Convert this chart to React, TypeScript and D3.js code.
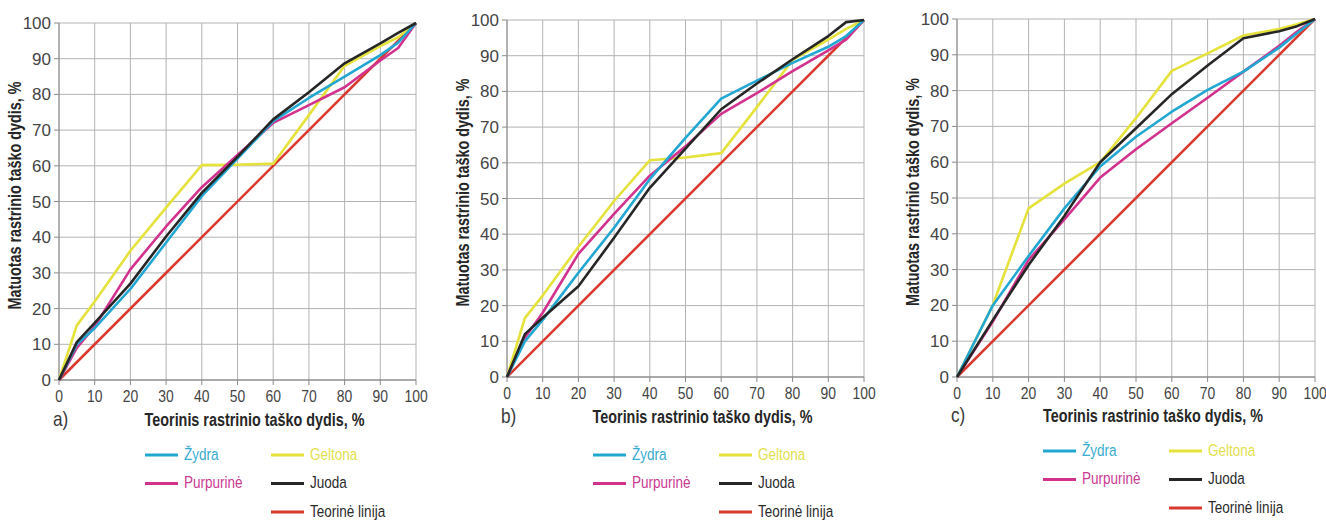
import React from 'react';
import * as d3 from 'd3';

// Nominal (theoretical) dot sizes, %
const X_AB = [0, 5, 10, 20, 30, 40, 50, 60, 70, 80, 90, 95, 100];
const X_C = [0, 10, 20, 30, 40, 50, 60, 70, 80, 90, 95, 100];
const X_THEORY = [0, 100];
const THEORY = [0, 100];

// Measured dot sizes, % — panel a)
const A_ZYDRA = [0, 10, 14.5, 25.5, 38.5, 51.5, 62, 72.5, 79, 85, 91, 94.5, 100];
const A_PURPURINE = [0, 9, 15, 31, 43, 54, 63, 72, 77, 82, 89.5, 93, 100];
const A_GELTONA = [0, 15.3, 22, 36.2, 48.3, 60.2, 60.3, 60.6, 74.2, 88, 93.5, 96, 100];
const A_JUODA = [0, 10.6, 16, 27, 40.2, 52.4, 62.5, 73, 80.6, 88.7, 94.3, 97.2, 100];

// Measured dot sizes, % — panel b)
const B_ZYDRA = [0, 10, 16, 29.2, 41.8, 55.4, 67, 78, 83, 88, 92.5, 95.5, 100];
const B_PURPURINE = [0, 11, 18, 34.5, 45.7, 56.4, 64.6, 73.7, 79.5, 85.7, 91.5, 94.5, 100];
const B_GELTONA = [0, 16.5, 22.8, 36.5, 49.3, 60.7, 61.5, 62.7, 75.6, 88.8, 94.5, 97.5, 100];
const B_JUODA = [0, 12, 16.6, 25.4, 39, 53, 64, 75, 82.2, 89, 95.5, 99.4, 100];

// Measured dot sizes, % — panel c)
const C_ZYDRA = [0, 20, 33.8, 47.1, 58.8, 67.1, 74.1, 80.2, 85.3, 92, 96, 100];
const C_PURPURINE = [0, 15.5, 32.7, 44, 55.7, 63.6, 70.9, 78, 85.3, 92.5, 96.5, 100];
const C_GELTONA = [0, 20.1, 47.1, 54, 60, 72.3, 85.5, 90.4, 95.4, 97.2, 98.5, 100];
const C_JUODA = [0, 15.9, 31.3, 45, 60, 69.5, 79, 87, 94.6, 96.6, 98, 100];

const TICKS = [0, 10, 20, 30, 40, 50, 60, 70, 80, 90, 100];
const X_TITLE = 'Teorinis rastrinio taško dydis, %';
const Y_TITLE = 'Matuotas rastrinio taško dydis, %';

const SERIES_COLORS: Record<string, string> = {
  'Žydra': '#22a7d2',
  'Purpurinė': '#d2328e',
  'Geltona': '#e5e23c',
  'Juoda': '#262626',
  'Teorinė linija': '#d93a30',
};
const LABEL_COLORS: Record<string, string> = {
  'Žydra': '#36abd0',
  'Purpurinė': '#cc3a92',
  'Geltona': '#e2df4c',
  'Juoda': '#2a2a2a',
  'Teorinė linija': '#2a2a2a',
};

type Panel = {
  label: string;
  x: number[];
  series: { name: string; values: number[] }[];
  left: number;
  top: number;
  size: number;
  legendY: number;
  titleY: number;
};

const PANELS: Panel[] = [
  {
    label: 'a)', x: X_AB,
    series: [
      { name: 'Geltona', values: A_GELTONA },
      { name: 'Purpurinė', values: A_PURPURINE },
      { name: 'Žydra', values: A_ZYDRA },
      { name: 'Juoda', values: A_JUODA },
    ],
    left: 59, top: 23, size: 357, legendY: 455, titleY: 426,
  },
  {
    label: 'b)', x: X_AB,
    series: [
      { name: 'Geltona', values: B_GELTONA },
      { name: 'Purpurinė', values: B_PURPURINE },
      { name: 'Žydra', values: B_ZYDRA },
      { name: 'Juoda', values: B_JUODA },
    ],
    left: 507, top: 20, size: 357, legendY: 455, titleY: 423,
  },
  {
    label: 'c)', x: X_C,
    series: [
      { name: 'Geltona', values: C_GELTONA },
      { name: 'Purpurinė', values: C_PURPURINE },
      { name: 'Žydra', values: C_ZYDRA },
      { name: 'Juoda', values: C_JUODA },
    ],
    left: 957, top: 19, size: 358, legendY: 451, titleY: 422,
  },
];

const FONT = '"Liberation Sans", Arial, sans-serif';
const CONDENSE = 0.82;

// Condensed text: regular sans squeezed horizontally, like a narrow face
function NText({ x, y, rotate = 0, anchor = 'start', size, weight = 'normal', fill, children }: any) {
  const rot = rotate ? ` rotate(${rotate})` : '';
  return (
    <text
      transform={`translate(${x},${y})${rot} scale(${CONDENSE},1)`}
      textAnchor={anchor}
      fontFamily={FONT}
      fontSize={size}
      fontWeight={weight}
      fill={fill}
    >
      {children}
    </text>
  );
}

function ChartPanel({ p }: { p: Panel }) {
  const x = d3.scaleLinear().domain([0, 100]).range([p.left, p.left + p.size]);
  const y = d3.scaleLinear().domain([0, 100]).range([p.top + p.size, p.top]);
  const bottom = p.top + p.size;
  const line = (xs: number[], ys: number[]) =>
    d3.line<number>().x((_, i) => x(xs[i])).y((d) => y(d))(ys) || '';

  const legendRows = [
    [{ name: 'Žydra', col: 0 }, { name: 'Geltona', col: 1 }],
    [{ name: 'Purpurinė', col: 0 }, { name: 'Juoda', col: 1 }],
    [{ name: 'Teorinė linija', col: 1 }],
  ];
  const legendCols = [p.left + 86, p.left + 212];

  return (
    <g>
      {/* grid */}
      {TICKS.map((t) => (
        <g key={'g' + t}>
          <line x1={x(t)} x2={x(t)} y1={p.top} y2={bottom} stroke="#b3b3b3" strokeWidth={1} />
          <line x1={p.left} x2={p.left + p.size} y1={y(t)} y2={y(t)} stroke="#b3b3b3" strokeWidth={1} />
        </g>
      ))}
      {/* axes */}
      <line x1={p.left} x2={p.left} y1={p.top} y2={bottom} stroke="#8a8a8a" strokeWidth={1} />
      <line x1={p.left} x2={p.left + p.size} y1={bottom} y2={bottom} stroke="#7a7a7a" strokeWidth={1} />
      {TICKS.map((t) => (
        <g key={'t' + t}>
          <line x1={p.left - 5} x2={p.left} y1={y(t)} y2={y(t)} stroke="#8a8a8a" />
          <line x1={x(t)} x2={x(t)} y1={bottom} y2={bottom + 5} stroke="#8a8a8a" />
          <text x={p.left - 8} y={y(t) + 6} textAnchor="end" fontFamily={FONT} fontSize={17} fill="#444">{t}</text>
          <NText x={x(t)} y={bottom + 22} anchor="middle" size={17} fill="#444">{t}</NText>
        </g>
      ))}
      {/* theoretical line */}
      <path d={line(X_THEORY, THEORY)} fill="none" stroke={SERIES_COLORS['Teorinė linija']} strokeWidth={2.6} />
      {p.series.map((s) => (
        <path key={s.name} d={line(p.x, s.values)} fill="none" stroke={SERIES_COLORS[s.name]} strokeWidth={2.6} strokeLinejoin="round" />
      ))}
      {/* labels */}
      <NText x={p.left - 6} y={p.titleY} size={21} fill="#3a3a3a">{p.label}</NText>
      <NText x={p.left + p.size / 2 + 17} y={p.titleY} anchor="middle" weight="bold" size={17.5} fill="#262626">{X_TITLE}</NText>
      <NText x={p.left - 38} y={p.top + p.size / 2 - 6} rotate={-90} anchor="middle" weight="bold" size={17.5} fill="#262626">{Y_TITLE}</NText>
      {/* legend */}
      {legendRows.map((row, ri) =>
        row.map((item) => {
          const lx = legendCols[item.col];
          const ly = p.legendY + ri * 28.5;
          return (
            <g key={item.name}>
              <line x1={lx} x2={lx + 33} y1={ly} y2={ly} stroke={SERIES_COLORS[item.name]} strokeWidth={3} />
              <NText x={lx + 39} y={ly + 4.5} size={16.5} fill={LABEL_COLORS[item.name]}>{item.name}</NText>
            </g>
          );
        })
      )}
    </g>
  );
}

export default function App() {
  return (
    <svg width={1326} height={520} style={{ position: 'absolute', left: 0, top: 0, background: '#fff' }}>
      <rect width={1326} height={520} fill="#fff" />
      {PANELS.map((p) => (
        <ChartPanel key={p.label} p={p} />
      ))}
    </svg>
  );
}
